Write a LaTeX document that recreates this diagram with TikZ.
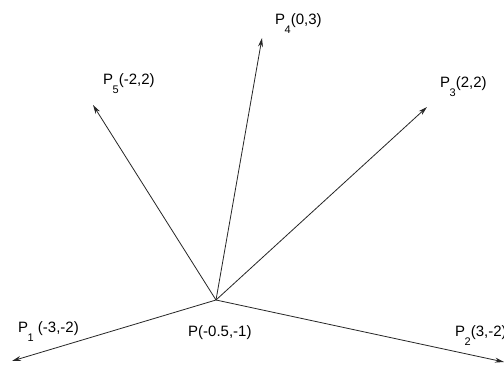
\documentclass[tikz,border=0pt]{standalone}
\usepackage{fontspec}
\setmainfont{Liberation Sans}
\usetikzlibrary{arrows.meta}
\newcommand\Pwith[1]{P\kern-0.5pt\raisebox{-9pt}{\fontsize{11}{11}\selectfont #1}}
\begin{document}
\begin{tikzpicture}[x=1pt,y=-1pt,
  vec/.style={draw=black!85, line width=0.8pt, -{Stealth[length=9pt,width=5pt]}},
  lbl/.style={anchor=base west, inner sep=0pt, font=\fontsize{15}{15}\selectfont}]
\clip (0,0) rectangle (504,366);
\fill[white] (0,0) rectangle (504,366);
\coordinate (P) at (216,300);
\coordinate (P1) at (12,361);
\coordinate (P2) at (504,362);
\coordinate (P3) at (427,107);
\coordinate (P4) at (262,38);
\coordinate (P5) at (93,105);
\draw[vec] (P) -- (P1);
\draw[vec] (P) -- (P2);
\draw[vec] (P) -- (P3);
\draw[vec] (P) -- (P4);
\draw[vec] (P) -- (P5);
\node[lbl] (l1) at (18,333) {\Pwith{1}\ (-3,-2)};
\node[lbl] (l2) at (455,337) {\Pwith{2}(3,-2)};
\node[lbl] (l3) at (440,88) {\Pwith{3}(2,2)};
\node[lbl] (l4) at (275,25) {\Pwith{4}(0,3)};
\node[lbl] (l5) at (103,85) {\Pwith{5}(-2,2)};
\node[lbl] (l0) at (188,337) {P(-0.5,-1)};
\end{tikzpicture}
\end{document}
